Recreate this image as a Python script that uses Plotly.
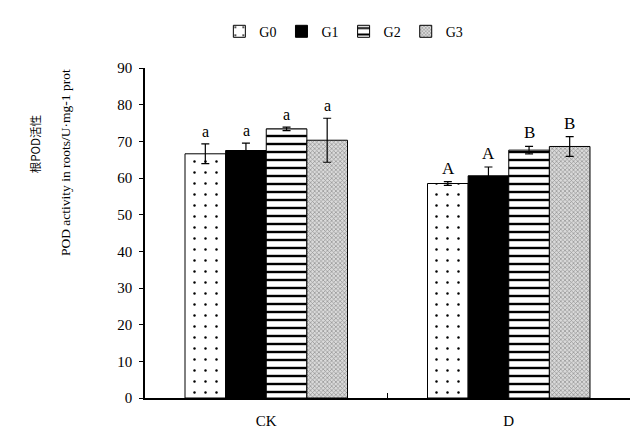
import plotly.graph_objects as go

categories = ["CK", "D"]
series = ["G0", "G1", "G2", "G3"]
values = {
    "G0": [66.6, 58.5],
    "G1": [67.5, 60.6],
    "G2": [73.4, 67.6],
    "G3": [70.3, 68.6],
}
errors = {
    "G0": [2.7, 0.5],
    "G1": [2.0, 2.4],
    "G2": [0.5, 1.0],
    "G3": [6.0, 2.7],
}
letters = {
    "G0": ["a", "A"],
    "G1": ["a", "A"],
    "G2": ["a", "B"],
    "G3": ["a", "B"],
}
y_ticks = [0, 10, 20, 30, 40, 50, 60, 70, 80, 90]

styles = {
    "G0": dict(color="white", pattern=dict(shape=".", fgcolor="black", bgcolor="white", size=11, solidity=0.04, fillmode="replace")),
    "G1": dict(color="black"),
    "G2": dict(color="white", pattern=dict(shape="-", fgcolor="black", bgcolor="white", size=8, solidity=0.3, fillmode="replace")),
    "G3": dict(color="#c8c8c8", pattern=dict(shape="x", fgcolor="#909090", bgcolor="#dadada", size=3, solidity=0.4, fillmode="replace")),
}

font = "Liberation Serif, Times New Roman, serif"
fig = go.Figure()
for s in series:
    fig.add_trace(go.Bar(
        name=s, x=categories, y=values[s],
        marker=dict(**styles[s], line=dict(color="black", width=1)),
        error_y=dict(type="data", array=errors[s], color="black", thickness=1.2, width=4),
    ))

bar_px = 40.5
for i, s in enumerate(series):
    for j, c in enumerate(categories):
        fig.add_annotation(
            x=c, y=values[s][j] + errors[s][j], text=letters[s][j],
            xshift=(i - 1.5) * bar_px, yshift=2, yanchor="bottom", showarrow=False,
            font=dict(family=font, size=17 if letters[s][j].isupper() else 16, color="black"),
        )

fig.add_annotation(xref="paper", yref="paper", x=-0.228, y=0.77, text="根POD活性",
                   textangle=-90, showarrow=False, font=dict(family="Noto Sans CJK SC, " + font, size=11.5, color="black"),
                   xanchor="center", yanchor="middle")
fig.add_annotation(xref="paper", yref="paper", x=-0.165, y=0.715, text="POD activity in roots/U·mg-1 prot",
                   textangle=-90, showarrow=False, font=dict(family=font, size=13.5, color="black"),
                   xanchor="center", yanchor="middle")

fig.update_layout(
    width=640, height=436,
    margin=dict(l=145, r=10, t=68, b=38),
    paper_bgcolor="white", plot_bgcolor="white",
    barmode="group", bargap=0.33, bargroupgap=0,
    font=dict(family=font, size=14, color="black"),
    showlegend=True,
    legend=dict(orientation="h", x=0.41, xanchor="center", y=1.11, yanchor="middle",
                font=dict(family=font, size=14), itemwidth=30, tracegroupgap=0,
                traceorder="normal"),
    xaxis=dict(showline=True, linecolor="black", linewidth=1.5, ticks="inside", ticklen=5,
               tickson="boundaries", tickcolor="black", showgrid=False, automargin=False,
               ticklabelstandoff=8, tickfont=dict(family=font, size=15)),
    yaxis=dict(range=[0, 90], tickvals=y_ticks, showline=True, linecolor="black", linewidth=1.5,
               ticks="outside", ticklen=4, tickcolor="black", showgrid=False, zeroline=False,
               automargin=False, ticklabelstandoff=4, tickfont=dict(family=font, size=15)),
)
fig.write_html("out.html")
